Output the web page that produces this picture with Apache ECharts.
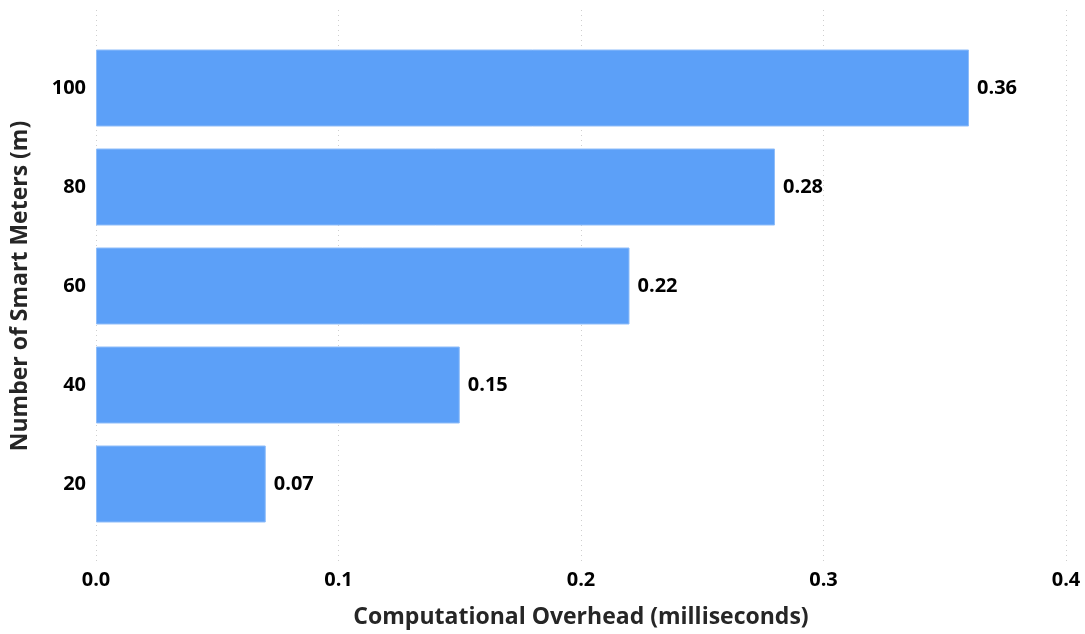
<!DOCTYPE html>
<html>
<head>
<meta charset="utf-8">
<script src="https://cdn.jsdelivr.net/npm/echarts@6/dist/echarts.min.js"></script>
<style>
  html, body { margin: 0; padding: 0; background: #fff; }
  #chart { width: 1085px; height: 634px; }
</style>
</head>
<body>
<div id="chart"></div>
<script>
// Computational overhead per number of smart meters
const meters = ['20', '40', '60', '80', '100'];
const overheadMs = [0.07, 0.15, 0.22, 0.28, 0.36];
const xTicks = { min: 0, max: 0.4, interval: 0.1 };

const FONT = '"Open Sans", "Noto Sans", sans-serif';
const chart = echarts.init(document.getElementById('chart'));

chart.setOption({
  animation: false,
  backgroundColor: '#ffffff',
  grid: [
    // bars
    { left: 96, right: 19, top: 38.5, bottom: 100.5 },
    // taller frame carrying the dotted grid lines and x tick labels
    { left: 96, right: 19, top: 10, bottom: 69 }
  ],
  xAxis: [
    {
      gridIndex: 0, type: 'value', min: xTicks.min, max: xTicks.max, interval: xTicks.interval,
      axisLine: { show: false }, axisTick: { show: false }, axisLabel: { show: false },
      splitLine: { show: false }
    },
    {
      gridIndex: 1, type: 'value', min: xTicks.min, max: xTicks.max, interval: xTicks.interval,
      axisLine: { show: false }, axisTick: { show: false },
      axisLabel: {
        margin: 5, color: '#000', fontFamily: FONT, fontWeight: 'bold', fontSize: 20,
        formatter: v => v.toFixed(1)
      },
      splitLine: { show: true, lineStyle: { color: '#cfcfcf', type: [1, 4], width: 1 } },
      name: 'Computational Overhead (milliseconds)',
      nameLocation: 'middle', nameGap: 41,
      nameTextStyle: { color: '#262626', fontFamily: FONT, fontWeight: 'bold', fontSize: 23 }
    }
  ],
  yAxis: [
    {
      gridIndex: 0, type: 'category', data: meters,
      axisLine: { show: false }, axisTick: { show: false },
      axisLabel: {
        margin: 10, color: '#000', fontFamily: FONT, fontWeight: 'bold', fontSize: 20,
        padding: [3, 0, 0, 0]
      },
      splitLine: { show: false },
      name: 'Number of Smart Meters (m)',
      nameLocation: 'middle', nameGap: 64,
      nameTextStyle: { color: '#262626', fontFamily: FONT, fontWeight: 'bold', fontSize: 23 }
    },
    {
      gridIndex: 1, type: 'value', min: 0, max: 1, show: false
    }
  ],
  series: [
    {
      type: 'bar',
      xAxisIndex: 0, yAxisIndex: 0,
      data: overheadMs,
      barWidth: 77,
      itemStyle: { color: '#5ca0f8', borderColor: '#8fbdf9', borderWidth: 1 },
      label: {
        show: true, position: 'right', distance: 8,
        color: '#000', fontFamily: FONT, fontWeight: 'bold', fontSize: 20,
        padding: [4, 0, 0, 0],
        formatter: p => p.value.toFixed(2)
      }
    }
  ]
});
</script>
</body>
</html>
